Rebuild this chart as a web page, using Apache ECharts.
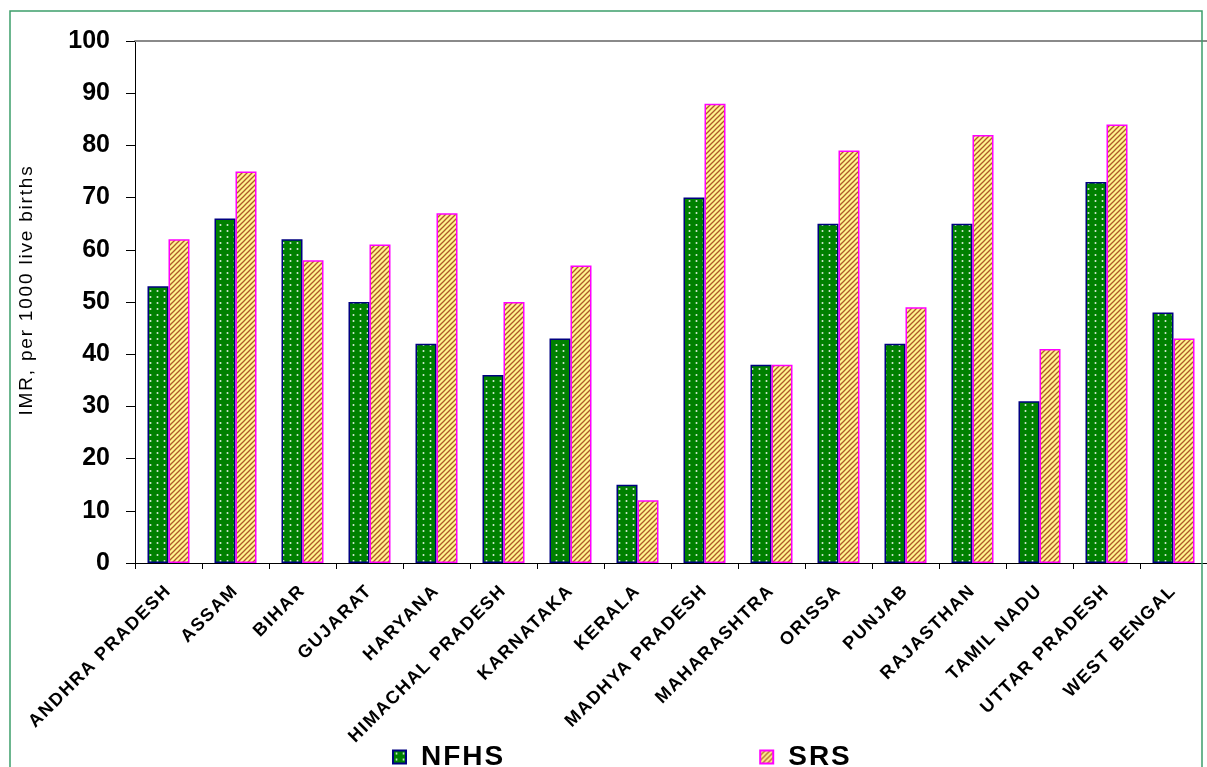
<!DOCTYPE html>
<html>
<head>
<meta charset="utf-8">
<script src="https://cdn.jsdelivr.net/npm/echarts@6/dist/echarts.min.js"></script>
<style>
  html, body { margin: 0; padding: 0; background: #fff; }
  #chart { width: 1207px; height: 767px; }
</style>
</head>
<body>
<div id="chart"></div>
<script>
// Infant mortality rate by state, two survey sources
const states = [
  'ANDHRA PRADESH', 'ASSAM', 'BIHAR', 'GUJARAT', 'HARYANA', 'HIMACHAL PRADESH',
  'KARNATAKA', 'KERALA', 'MADHYA PRADESH', 'MAHARASHTRA', 'ORISSA', 'PUNJAB',
  'RAJASTHAN', 'TAMIL NADU', 'UTTAR PRADESH', 'WEST BENGAL'
];
const nfhs = [53, 66, 62, 50, 42, 36, 43, 15, 70, 38, 65, 42, 65, 31, 73, 48];
const srs  = [62, 75, 58, 61, 67, 50, 57, 12, 88, 38, 79, 49, 82, 41, 84, 43];
const yTicks = { min: 0, max: 100, step: 10 };

// Wider tracking for some text sizes (canvas letterSpacing)
const TRACKING = { '18': '1.6px', '19': '1.8px', '28': '2px' };
const origFillText = CanvasRenderingContext2D.prototype.fillText;
CanvasRenderingContext2D.prototype.fillText = function () {
  if ('letterSpacing' in this) {
    const m = /(\d+(?:\.\d+)?)px/.exec(this.font);
    this.letterSpacing = (m && TRACKING[m[1]]) || '0px';
  }
  return origFillText.apply(this, arguments);
};

// Fill patterns: green with light dots, yellow with brown diagonal stripes
function dotPattern() {
  const c = document.createElement('canvas');
  c.width = 7; c.height = 6;
  const g = c.getContext('2d');
  g.fillStyle = '#008000';
  g.fillRect(0, 0, 7, 6);
  g.fillStyle = '#d8ecd8';
  g.beginPath();
  g.arc(3.5, 3, 1, 0, Math.PI * 2);
  g.fill();
  return c;
}
function stripePattern() {
  const s = 5;
  const c = document.createElement('canvas');
  c.width = s; c.height = s;
  const g = c.getContext('2d');
  g.fillStyle = '#fff58e';
  g.fillRect(0, 0, s, s);
  g.strokeStyle = '#b05a2a';
  g.lineWidth = 1.3;
  for (let k = -1; k <= 1; k++) {
    g.beginPath();
    g.moveTo(-1 + k * s, s + 1);
    g.lineTo(s + 1 + k * s, -1);
    g.stroke();
  }
  return c;
}

const chart = echarts.init(document.getElementById('chart'), null, { renderer: 'canvas' });

const option = {
  backgroundColor: '#ffffff',
  animation: false,
  grid: { left: 135, top: 41, bottom: 204, right: -14, containLabel: false },
  legend: {
    left: 392,
    top: 743,
    padding: 0,
    icon: 'rect',
    itemWidth: 13,
    itemHeight: 13,
    itemGap: 262,
    textStyle: { fontFamily: 'Arial', fontWeight: 'bold', fontSize: 28, color: '#000', padding: [0, 0, 0, 10] },
    data: ['NFHS', 'SRS']
  },
  xAxis: [
    {
      type: 'category',
      data: states,
      axisLine: { lineStyle: { color: '#000', width: 1 } },
      axisTick: { show: true, length: 6, lineStyle: { color: '#000' } },
      axisLabel: {
        interval: 0,
        rotate: 45,
        margin: 25,
        fontFamily: 'Arial',
        fontWeight: 'bold',
        fontSize: 18,
        color: '#000'
      }
    },
    {
      type: 'category',
      data: states,
      position: 'top',
      axisLine: { lineStyle: { color: '#8a8a8a', width: 2 } },
      axisTick: { show: false },
      axisLabel: { show: false }
    }
  ],
  yAxis: {
    type: 'value',
    min: yTicks.min,
    max: yTicks.max,
    interval: yTicks.step,
    name: 'IMR, per 1000 live births',
    nameLocation: 'middle',
    nameRotate: 90,
    nameGap: 99,
    nameTextStyle: { fontFamily: 'Arial', fontSize: 19, color: '#000', padding: [0, 0, 0, 24] },
    axisLine: { show: true, lineStyle: { color: '#000', width: 1 } },
    axisTick: { show: true, length: 9, lineStyle: { color: '#000' } },
    splitLine: { show: false },
    axisLabel: {
      margin: 25,
      fontFamily: 'Arial',
      fontWeight: 'bold',
      fontSize: 25,
      color: '#000'
    }
  },
  series: [
    {
      name: 'NFHS',
      type: 'bar',
      data: nfhs,
      barWidth: 21,
      barGap: '0%',
      itemStyle: {
        color: { image: dotPattern(), repeat: 'repeat' },
        borderColor: '#000080',
        borderWidth: 1.5
      }
    },
    {
      name: 'SRS',
      type: 'bar',
      data: srs,
      barWidth: 21,
      barGap: '0%',
      itemStyle: {
        color: { image: stripePattern(), repeat: 'repeat' },
        borderColor: '#ff00ff',
        borderWidth: 1.5
      }
    }
  ],
  graphic: [
    {
      type: 'rect',
      z: 100,
      silent: true,
      shape: { x: 10, y: 11, width: 1192, height: 820 },
      style: { fill: 'none', stroke: '#3d9e6b', lineWidth: 1.5 }
    }
  ]
};

chart.setOption(option);
</script>
</body>
</html>
